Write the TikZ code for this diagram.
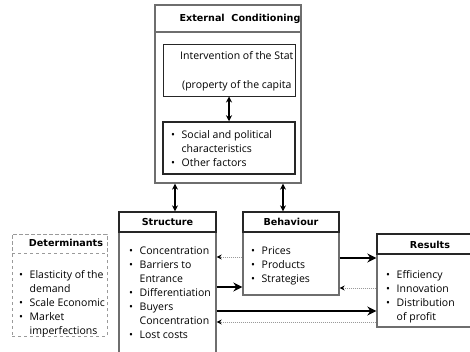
\documentclass[tikz,border=0pt]{standalone}
\usepackage{fontspec}
\setmainfont{Open Sans}
\newfontfamily\hdfont{DejaVu Sans}
\usetikzlibrary{arrows.meta,positioning,calc}
\definecolor{BoxGrey}{HTML}{6E6E6E}
\definecolor{FeedGrey}{HTML}{9A9A9A}
\newcommand{\bul}{\makebox[10.5pt][l]{\textbullet}}
\newcommand{\ind}{\hspace*{10.5pt}}

\begin{document}
\begin{tikzpicture}[x=1pt,y=-1pt,
        font=\fontsize{10.5}{14}\selectfont,
        panel/.style={draw=BoxGrey, line width=1.3pt, fill=white, inner sep=0pt},
        inner/.style={draw=black!85, line width=1pt, inner sep=0pt},
        headrow/.style={draw=black!85, line width=1.2pt, inner sep=0pt, minimum height=20pt},
        title/.style={font=\hdfont\bfseries\fontsize{9.6}{11}\selectfont, inner sep=0pt},
        list/.style={anchor=north west, align=left, inner sep=0pt},
        flow/.style={-{Stealth[length=9pt,width=9pt]}, line width=2.6pt},
        feed/.style={-{Stealth[length=5pt,width=5pt,color=black]}, draw=FeedGrey, densely dotted, line width=1pt},
        both/.style={{Stealth[length=6pt,width=6pt]}-{Stealth[length=6pt,width=6pt]}, line width=1.6pt},
    ]
    \useasboundingbox (0,0) rectangle (470,351);

    % external conditioning
    \node[panel, minimum width=146pt, minimum height=178pt] (ext) at (228,94) {};
    \node[headrow, draw=BoxGrey, minimum width=146pt, minimum height=27pt, anchor=north] (exth) at (ext.north) {};
    \node[title] (extt) at (240,19) {External\ \ Conditioning};

    \node[inner, minimum width=132pt, minimum height=52pt] (int) at (229,70) {};
    \node[list] (intt) at (180,51) {Intervention of the Stat\\[15pt]\hspace*{2pt}(property of the capita};

    \node[inner, line width=1.5pt, minimum width=132pt, minimum height=52pt] (soc) at (229,148) {};
    \node[list] (soct) at (171,130) {\bul Social and political\\\ind characteristics\\\bul Other factors};

    \draw[both] (int.south) -- (soc.north);

    % structure
    \node[panel, minimum width=97pt, minimum height=150pt] (str) at (167.5,287) {};
    \node[headrow, minimum width=97pt, anchor=north] (strh) at (str.north) {};
    \node[title] (strt) at (167.5,222) {Structure};
    \node[list] (strl) at (129,247) {\bul Concentration\\\bul Barriers to\\\ind Entrance\\\bul Differentiation\\\bul Buyers\\\ind Concentration\\\bul Lost costs};

    % behaviour
    \node[panel, minimum width=96pt, minimum height=83pt] (beh) at (291,253.5) {};
    \node[headrow, minimum width=96pt, anchor=north] (behh) at (beh.north) {};
    \node[title] (beht) at (291,222) {Behaviour};
    \node[list] (behl) at (251,247) {\bul Prices\\\bul Products\\\bul Strategies};

    % results
    \node[panel, minimum width=98pt, minimum height=93pt] (res) at (426,280.5) {};
    \node[headrow, minimum width=98pt, anchor=north] (resh) at (res.north) {};
    \node[title] (rest) at (430,245) {Results};
    \node[list] (resl) at (386,270) {\bul Efficiency\\\bul Innovation\\\bul Distribution\\\ind of profit};

    % determinants
    \node[panel, draw=FeedGrey, dashed, line width=0.8pt, minimum width=95pt, minimum height=102pt] (det) at (59.5,285) {};
    \node[headrow, draw=FeedGrey, dashed, line width=0.8pt, minimum width=95pt, minimum height=19pt, anchor=north] (deth) at (det.north) {};
    \node[title] (dett) at (66,243) {Determinants};
    \node[list] (detl) at (19,270) {\bul Elasticity of the\\\ind demand\\\bul Scale Economic\\\bul Market\\\ind imperfections};

    % links
    \draw[both] ([xshift=7.5pt]str.north) -- ([xshift=7.5pt]str.north |- ext.south);
    \draw[both] ([xshift=-8pt]beh.north) -- ([xshift=-8pt]beh.north |- ext.south);

    \draw[feed] ([yshift=-3.5pt]beh.west) -- ([yshift=-3.5pt]beh.west -| str.east);
    \draw[flow] ([yshift=-33.5pt]beh.west -| str.east) -- ([yshift=-33.5pt]beh.west);
    \draw[flow] ([yshift=22.5pt]res.west -| beh.east) -- ([yshift=22.5pt]res.west);
    \draw[feed] ([yshift=-7.5pt]res.west) -- ([yshift=-7.5pt]res.west -| beh.east);
    \draw[flow] ([yshift=-30.5pt]res.west -| str.east) -- ([yshift=-30.5pt]res.west);
    \draw[feed] ([yshift=-41.5pt]res.west) -- ([yshift=-41.5pt]res.west -| str.east);
\end{tikzpicture}
\end{document}
